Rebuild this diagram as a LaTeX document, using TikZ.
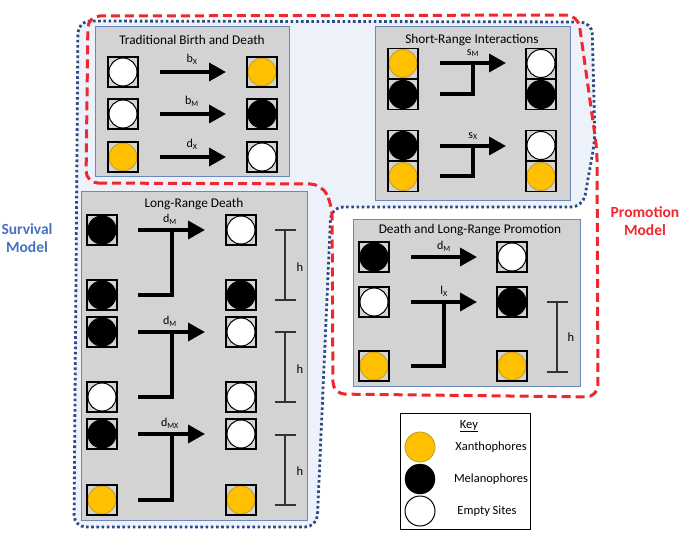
\documentclass[tikz,border=0pt]{standalone}
\usepackage{fontspec}
\setmainfont{Carlito}
\usetikzlibrary{arrows.meta}
\definecolor{bgblue}{HTML}{EDF1F9}
\definecolor{panelgray}{HTML}{D3D3D3}
\definecolor{panelblue}{HTML}{6A88BA}
\definecolor{xyellow}{HTML}{FFC000}
\definecolor{xyellowd}{HTML}{C49A1A}
\definecolor{survblue}{HTML}{4472C4}
\definecolor{dotblue}{HTML}{2E4A86}
\definecolor{promred}{HTML}{F0282D}
\begin{document}
\begin{tikzpicture}[x=1pt,y=-1pt,
 panel/.style={draw=panelblue,fill=panelgray,line width=1pt,anchor=north west,inner sep=0pt,outer sep=0pt},
 cellbox/.style={rectangle,draw=black,line width=1.2pt,fill=panelgray,minimum size=30pt,inner sep=0pt},
 cY/.style={cellbox,path picture={\draw[fill=xyellow,draw=xyellowd,line width=0.8pt] (path picture bounding box.center) circle (14pt);}},
 cB/.style={cellbox,path picture={\fill[black] (path picture bounding box.center) circle (14.6pt);}},
 cW/.style={cellbox,path picture={\draw[fill=white,draw=black,line width=1pt] (path picture bounding box.center) circle (14pt);}},
 arr/.style={line width=3.5pt,-{Triangle[length=17pt,width=18pt]}},
 elb/.style={line width=3.5pt,line join=miter},
 lab/.style={font=\fontsize{12}{13}\selectfont,inner sep=0pt},
 ttl/.style={font=\fontsize{13.3}{15}\selectfont,inner sep=0pt},
 hbar/.style={line width=1.3pt,draw=black!80},
 hlab/.style={font=\fontsize{12.5}{14}\selectfont,inner sep=0pt},
 keytxt/.style={font=\fontsize{12.5}{14}\selectfont,inner sep=0pt},
 model/.style={font=\fontsize{15.5}{18}\selectfont\bfseries,align=center,inner sep=0pt},
 bluedot/.style={draw=dotblue,line width=2.8pt,dash pattern=on 2.6pt off 2.6pt,rounded corners=12pt},
 reddash/.style={draw=promred,line width=3pt,dash pattern=on 9pt off 5pt,rounded corners=12pt}
]
\useasboundingbox (0,0) rectangle (685,543);
% survival region fill
\fill[bgblue,rounded corners=12pt] (74,527) -- (317,527) -- (331,207) -- (583,207) -- (595,140) -- (592,22) -- (78,21) -- cycle;

% ---------- Panel 1 ----------
\node[panel,minimum width=194pt,minimum height=149pt] (P1) at (95,27) {};
\node[ttl] (T1) at (192,40) {Traditional Birth and Death};
\node[cW] (p1l1) at (123,72) {};
\node[cY] (p1r1) at (262,72) {};
\node[cW] (p1l2) at (123,114) {};
\node[cB] (p1r2) at (262,114) {};
\node[cY] (p1l3) at (123,157) {};
\node[cW] (p1r3) at (262,157) {};
\coordinate (a11) at (160,72); \coordinate (a12) at (226,72);
\coordinate (a21) at (160,114); \coordinate (a22) at (226,114);
\coordinate (a31) at (160,157); \coordinate (a32) at (226,157);
\draw[arr] (a11) -- (a12);
\draw[arr] (a21) -- (a22);
\draw[arr] (a31) -- (a32);
\node[lab] (l11) at (192,59) {b\textsubscript{X}};
\node[lab] (l12) at (192,101) {b\textsubscript{M}};
\node[lab] (l13) at (192,144) {d\textsubscript{X}};

% ---------- Panel 2 ----------
\node[panel,minimum width=195pt,minimum height=173pt] (P2) at (375,27) {};
\node[ttl] (T2) at (472,40) {Short-Range Interactions};
\node[cY] (p2l1) at (403,63.5) {};
\node[cB] (p2l2) at (403,94.5) {};
\node[cW] (p2r1) at (541,63.5) {};
\node[cB] (p2r2) at (541,94.5) {};
\node[cB] (p2l3) at (403,145.5) {};
\node[cY] (p2l4) at (403,176.5) {};
\node[cW] (p2r3) at (541,145.5) {};
\node[cY] (p2r4) at (541,176.5) {};
\coordinate (b11) at (440,63); \coordinate (b12) at (506,63);
\coordinate (b1e) at (440,94); \coordinate (b1t) at (473,63);
\coordinate (b21) at (440,146); \coordinate (b22) at (506,146);
\coordinate (b2e) at (440,176); \coordinate (b2t) at (473,146);
\draw[elb] (b1e) -| (b1t);
\draw[arr] (b11) -- (b12);
\draw[elb] (b2e) -| (b2t);
\draw[arr] (b21) -- (b22);
\node[lab] (l21) at (473,53) {s\textsubscript{M}};
\node[lab] (l22) at (473,136) {s\textsubscript{X}};

% ---------- Panel 3 ----------
\node[panel,minimum width=226pt,minimum height=329pt] (P3) at (81,191) {};
\node[ttl] (T3) at (194,204) {Long-Range Death};
\node[cB] (p3l1) at (102,230) {};
\node[cB] (p3l2) at (102,295) {};
\node[cW] (p3r1) at (241,230) {};
\node[cB] (p3r2) at (241,295) {};
\node[cB] (p3l3) at (102,332) {};
\node[cW] (p3l4) at (102,397) {};
\node[cW] (p3r3) at (241,332) {};
\node[cW] (p3r4) at (241,397) {};
\node[cB] (p3l5) at (102,434) {};
\node[cY] (p3l6) at (102,500) {};
\node[cW] (p3r5) at (241,434) {};
\node[cY] (p3r6) at (241,500) {};
\coordinate (c11) at (138,230); \coordinate (c12) at (205,230);
\coordinate (c1e) at (138,295); \coordinate (c1t) at (172,230);
\coordinate (c21) at (138,332); \coordinate (c22) at (205,332);
\coordinate (c2e) at (138,397); \coordinate (c2t) at (172,332);
\coordinate (c31) at (138,434); \coordinate (c32) at (205,434);
\coordinate (c3e) at (138,500); \coordinate (c3t) at (172,434);
\draw[elb] (c1e) -| (c1t); \draw[arr] (c11) -- (c12);
\draw[elb] (c2e) -| (c2t); \draw[arr] (c21) -- (c22);
\draw[elb] (c3e) -| (c3t); \draw[arr] (c31) -- (c32);
\node[lab] (l31) at (170,219) {d\textsubscript{M}};
\node[lab] (l32) at (170,321) {d\textsubscript{M}};
\node[lab] (l33) at (170,423) {d\textsubscript{MX}};
% h bars
\coordinate (h1t) at (285,230); \coordinate (h1b) at (285,300);
\coordinate (h2t) at (285,332); \coordinate (h2b) at (285,402);
\coordinate (h3t) at (285,435); \coordinate (h3b) at (285,505);
\foreach \t/\b in {h1t/h1b,h2t/h2b,h3t/h3b}{
  \draw[hbar] (\t) -- (\b);
  \draw[hbar] ([xshift=-10.5pt]\t) -- ([xshift=10.5pt]\t);
  \draw[hbar] ([xshift=-10.5pt]\b) -- ([xshift=10.5pt]\b);
}
\node[hlab] (hl1) at (300,267) {h};
\node[hlab] (hl2) at (300,369) {h};
\node[hlab] (hl3) at (300,471) {h};

% ---------- Panel 4 ----------
\node[panel,minimum width=227pt,minimum height=167pt] (P4) at (353,219) {};
\node[ttl] (T4) at (470,230) {Death and Long-Range Promotion};
\node[cB] (p4l1) at (374,257) {};
\node[cW] (p4r1) at (512,257) {};
\node[cW] (p4l2) at (374,302) {};
\node[cB] (p4r2) at (512,302) {};
\node[cY] (p4l3) at (374,366) {};
\node[cY] (p4r3) at (512,366) {};
\coordinate (d11) at (411,257); \coordinate (d12) at (477,257);
\coordinate (d21) at (411,302); \coordinate (d22) at (477,302);
\coordinate (d2e) at (411,366); \coordinate (d2t) at (444,302);
\draw[arr] (d11) -- (d12);
\draw[elb] (d2e) -| (d2t); \draw[arr] (d21) -- (d22);
\node[lab] (l41) at (444,246) {d\textsubscript{M}};
\node[lab] (l42) at (444,291) {l\textsubscript{X}};
\coordinate (h4t) at (557,302); \coordinate (h4b) at (557,372);
\draw[hbar] (h4t) -- (h4b);
\draw[hbar] ([xshift=-10.5pt]h4t) -- ([xshift=10.5pt]h4t);
\draw[hbar] ([xshift=-10.5pt]h4b) -- ([xshift=10.5pt]h4b);
\node[hlab] (hl4) at (571,337) {h};

% ---------- Outlines ----------
\draw[bluedot] (74,527) -- (317,527) -- (331,207) -- (583,207) -- (595,140) -- (592,22) -- (78,21) -- cycle;
\draw[reddash] (86,183) -- (322,184) -- (332,205) -- (333,394) -- (598,397) -- (597,150) -- (578,15) -- (88,16) -- cycle;

% ---------- Model labels ----------
\node[model,text=survblue] (SM) at (27,238) {Survival\\Model};
\node[model,text=promred] (PM) at (645,221) {Promotion\\Model};

% ---------- Key ----------
\node[draw=black,line width=1.3pt,fill=white,anchor=north west,minimum width=130pt,minimum height=116pt,inner sep=0pt] (K) at (400,413) {};
\node[keytxt] (KT) at (469,426) {\underline{Key}};
\node[circle,draw=xyellowd,fill=xyellow,line width=0.8pt,minimum size=30pt,inner sep=0pt] (kY) at (420,447) {};
\node[circle,draw=black,fill=black,minimum size=30pt,inner sep=0pt] (kB) at (420,479) {};
\node[circle,draw=black,fill=white,line width=1pt,minimum size=30pt,inner sep=0pt] (kW) at (420,511) {};
\node[keytxt] (kYt) at (491,447) {Xanthophores};
\node[keytxt] (kBt) at (491,479) {Melanophores};
\node[keytxt] (kWt) at (487,511) {Empty Sites};
\end{tikzpicture}
\end{document}
